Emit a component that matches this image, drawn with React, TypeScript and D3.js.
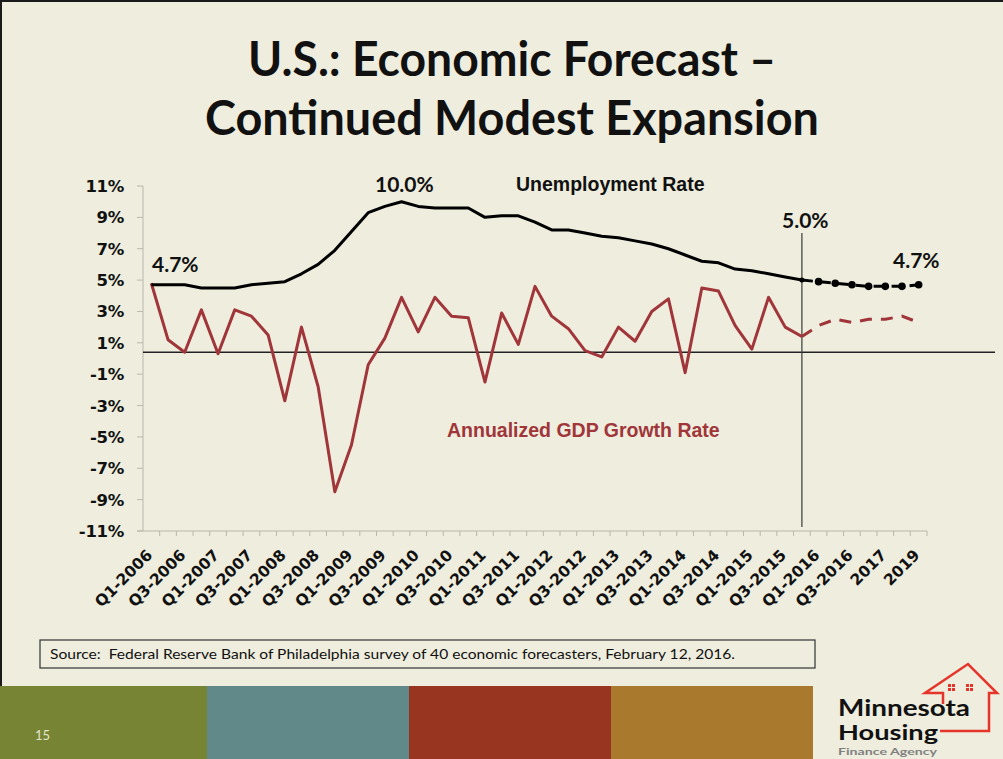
import React from 'react';
import * as d3 from 'd3';

const categories = [
  'Q1-2006','Q2-2006','Q3-2006','Q4-2006',
  'Q1-2007','Q2-2007','Q3-2007','Q4-2007',
  'Q1-2008','Q2-2008','Q3-2008','Q4-2008',
  'Q1-2009','Q2-2009','Q3-2009','Q4-2009',
  'Q1-2010','Q2-2010','Q3-2010','Q4-2010',
  'Q1-2011','Q2-2011','Q3-2011','Q4-2011',
  'Q1-2012','Q2-2012','Q3-2012','Q4-2012',
  'Q1-2013','Q2-2013','Q3-2013','Q4-2013',
  'Q1-2014','Q2-2014','Q3-2014','Q4-2014',
  'Q1-2015','Q2-2015','Q3-2015','Q4-2015',
  'Q1-2016','Q2-2016','Q3-2016','Q4-2016',
  '2017','2018','2019',
];

// Actual values, index 0 .. 39
const unemploymentActual = [
  4.7, 4.7, 4.7, 4.5, 4.5, 4.5, 4.7, 4.8, 4.9, 5.4,
  6.0, 6.9, 8.1, 9.3, 9.7, 10.0, 9.7, 9.6, 9.6, 9.6,
  9.0, 9.1, 9.1, 8.7, 8.2, 8.2, 8.0, 7.8, 7.7, 7.5,
  7.3, 7.0, 6.6, 6.2, 6.1, 5.7, 5.6, 5.4, 5.2, 5.0,
];
const gdpActual = [
  4.8, 1.2, 0.4, 3.1, 0.3, 3.1, 2.7, 1.5, -2.7, 2.0,
  -1.8, -8.5, -5.5, -0.4, 1.3, 3.9, 1.7, 3.9, 2.7, 2.6,
  -1.5, 2.9, 0.9, 4.6, 2.7, 1.9, 0.5, 0.1, 2.0, 1.1,
  3.0, 3.8, -0.9, 4.5, 4.3, 2.1, 0.6, 3.9, 2.0, 1.4,
];
// Forecast values, index 39 .. 46
const forecastStart = 39;
const unemploymentForecast = [5.0, 4.9, 4.8, 4.7, 4.6, 4.6, 4.6, 4.7];
const gdpForecast = [1.4, 2.1, 2.5, 2.3, 2.5, 2.5, 2.7, 2.3];

const yTicks = [-11, -9, -7, -5, -3, -1, 1, 3, 5, 7, 9, 11];
const referenceLineValue = 0.4;
const dividerTopValue = 8.0;
const dividerBottomValue = -10.75;

const bandColors = ['#768434', '#62898A', '#983521', '#A97A2D'];
const bandEdges = [0, 207, 409, 611, 813];

const BG = '#EEEDDE';
const RED = '#A0353A';

export default function App() {
  const W = 1003;
  const H = 759;
  const x = d3.scaleBand<string>().domain(categories).range([143, 927]);
  const cx = (i: number) => (x(categories[i]) as number) + x.bandwidth() / 2;
  const y = d3.scaleLinear().domain([-11, 11]).range([531, 186]);

  const line = d3
    .line<number>()
    .x((_, i) => cx(i))
    .y((d) => y(d));
  const fLine = d3
    .line<number>()
    .x((_, i) => cx(i + forecastStart))
    .y((d) => y(d));

  const axisFont = '"DejaVu Sans", sans-serif';
  const labelFont = 'Lato, "Open Sans", sans-serif';
  const arialFont = '"Liberation Sans", Arial, sans-serif';

  const divX = cx(forecastStart);

  return (
    <svg
      width={W}
      height={H}
      viewBox={`0 0 ${W} ${H}`}
      style={{ position: 'absolute', left: 0, top: 0, display: 'block' }}
    >
      <rect x={0} y={0} width={W} height={H} fill={BG} />
      <line x1={1} y1={0} x2={1} y2={H} stroke="#1a1a1a" strokeWidth={2} />
      <line x1={0} y1={1} x2={W} y2={1} stroke="#1a1a1a" strokeWidth={2} />

      {/* Title */}
      <text
        x={512}
        y={76}
        textAnchor="middle"
        fontFamily={labelFont}
        fontWeight={700}
        fontSize={47}
        fill="#111"
        textLength={528}
        lengthAdjust="spacingAndGlyphs"
      >
        U.S.: Economic Forecast –
      </text>
      <text
        x={512}
        y={135}
        textAnchor="middle"
        fontFamily={labelFont}
        fontWeight={700}
        fontSize={47}
        fill="#111"
        textLength={614}
        lengthAdjust="spacingAndGlyphs"
      >
        Continued Modest Expansion
      </text>

      {/* Y axis */}
      <line x1={143} y1={y(11)} x2={143} y2={y(-11)} stroke="#B9B8AA" strokeWidth={1} />
      {yTicks.map((t) => (
        <g key={t}>
          <line x1={137} y1={y(t)} x2={143} y2={y(t)} stroke="#B9B8AA" strokeWidth={1} />
          <text
            x={124}
            y={y(t) + 6}
            textAnchor="end"
            fontFamily={axisFont}
            fontWeight={700}
            fontSize={16.5}
            letterSpacing={-0.3}
            fill="#111"
          >
            {`${t}%`}
          </text>
        </g>
      ))}

      {/* X axis */}
      <line x1={137} y1={y(-11)} x2={927} y2={y(-11)} stroke="#B9B8AA" strokeWidth={1} />
      {categories.map((c) => (
        <line
          key={'t' + c}
          x1={(x(c) as number) + x.bandwidth()}
          y1={y(-11)}
          x2={(x(c) as number) + x.bandwidth()}
          y2={y(-11) + 5}
          stroke="#B9B8AA"
          strokeWidth={1}
        />
      ))}
      {categories.map((c, i) =>
        i % 2 === 0 ? (
          <text
            key={'l' + c}
            transform={`translate(${cx(i) + 2},${556}) rotate(-45)`}
            textAnchor="end"
            fontFamily={axisFont}
            fontWeight={700}
            fontSize={15.5}
            fill="#111"
          >
            {c}
          </text>
        ) : null
      )}

      {/* Reference lines */}
      <line
        x1={143}
        y1={y(referenceLineValue)}
        x2={995}
        y2={y(referenceLineValue)}
        stroke="#222"
        strokeWidth={1.5}
      />
      <line
        x1={divX}
        y1={y(dividerTopValue)}
        x2={divX}
        y2={y(dividerBottomValue)}
        stroke="#3a3a3a"
        strokeWidth={1.2}
      />

      {/* Series */}
      <path d={line(gdpActual) as string} fill="none" stroke={RED} strokeWidth={3} strokeLinejoin="round" />
      <path
        d={fLine(gdpForecast) as string}
        fill="none"
        stroke={RED}
        strokeWidth={3}
        strokeDasharray="12,9"
      />
      <path d={line(unemploymentActual) as string} fill="none" stroke="#000" strokeWidth={3} strokeLinejoin="round" />
      <path
        d={fLine(unemploymentForecast) as string}
        fill="none"
        stroke="#000"
        strokeWidth={3}
        strokeDasharray="11,7"
      />
      {unemploymentForecast.map((v, i) => (
        <circle key={'m' + i} cx={cx(i + forecastStart)} cy={y(v)} r={i === 0 ? 2.5 : 3.8} fill="#000" />
      ))}

      {/* Annotations */}
      <text x={152} y={272} fontFamily={labelFont} fontWeight={700} fontSize={21} fill="#111">
        4.7%
      </text>
      <text x={375} y={192} fontFamily={labelFont} fontWeight={700} fontSize={21} fill="#111">
        10.0%
      </text>
      <text x={782} y={228} fontFamily={labelFont} fontWeight={700} fontSize={21} fill="#111">
        5.0%
      </text>
      <text x={893} y={268} fontFamily={labelFont} fontWeight={700} fontSize={21} fill="#111">
        4.7%
      </text>
      <text x={516} y={191} fontFamily={arialFont} fontWeight={700} fontSize={19.5} fill="#111">
        Unemployment Rate
      </text>
      <text x={447} y={437} fontFamily={arialFont} fontWeight={700} fontSize={19.5} fill={RED}>
        Annualized GDP Growth Rate
      </text>

      {/* Source box */}
      <rect x={40} y={640} width={775} height={28} fill="none" stroke="#333" strokeWidth={1.2} />
      <text
        x={50}
        y={659}
        fontFamily={labelFont}
        fontSize={13.5}
        fill="#111"
        style={{ whiteSpace: 'pre' }}
        textLength={685}
        lengthAdjust="spacingAndGlyphs"
      >
        {'Source:  Federal Reserve Bank of Philadelphia survey of 40 economic forecasters, February 12, 2016.'}
      </text>

      {/* Bottom colour bands */}
      {bandColors.map((c, i) => (
        <rect key={c} x={bandEdges[i]} y={686} width={bandEdges[i + 1] - bandEdges[i]} height={H - 686} fill={c} />
      ))}
      <text x={35} y={740} fontFamily={labelFont} fontSize={13} fill="#E4E4CC">
        15
      </text>

      {/* Logo */}
      <g fill="none" stroke="#E5352B" strokeWidth={2.5} strokeLinejoin="miter">
        <path d="M943,704 L943,693 L925,693 L968,664 L997,693 L989,693 L989,731 L940,731" />
      </g>
      <g fill="#E5352B">
        <rect x={948} y={684} width={7} height={7} />
        <rect x={966} y={684} width={7} height={7} />
      </g>
      <g stroke={BG} strokeWidth={1}>
        <line x1={951.5} y1={684} x2={951.5} y2={691} />
        <line x1={948} y1={687.5} x2={955} y2={687.5} />
        <line x1={969.5} y1={684} x2={969.5} y2={691} />
        <line x1={966} y1={687.5} x2={973} y2={687.5} />
      </g>
      <text x={838} y={716} fontFamily={labelFont} fontWeight={700} fontSize={22} fill="#111" textLength={132} lengthAdjust="spacingAndGlyphs">
        Minnesota
      </text>
      <text x={838} y={740} fontFamily={labelFont} fontWeight={700} fontSize={21} fill="#111" textLength={100} lengthAdjust="spacingAndGlyphs">
        Housing
      </text>
      <text x={838} y={755} fontFamily={labelFont} fontWeight={700} fontSize={10} fill="#808080" textLength={99} lengthAdjust="spacingAndGlyphs">
        Finance Agency
      </text>
    </svg>
  );
}
